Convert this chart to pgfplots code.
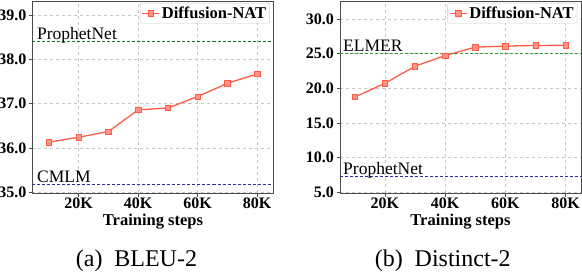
\documentclass[border=0pt]{standalone}
\usepackage{pgfplots}
\pgfplotsset{compat=1.18}
\usepackage{fontspec}
\setmainfont{Liberation Serif}
\definecolor{lineR}{HTML}{FF5B47}
\definecolor{fillR}{HTML}{FF9585}
\definecolor{refgreenA}{RGB}{20,120,20}
\definecolor{refgreenB}{RGB}{50,160,50}
\definecolor{refblue}{RGB}{45,45,175}
\pgfplotsset{
  common/.style={
    scale only axis, width=241pt, height=192pt,
    anchor=north west,
    axis line style={black!70, line width=0.8pt},
    grid=major,
    major grid style={dashed, black!22, line width=0.5pt},
    tick align=outside,
    major tick length=3.5pt,
    tick style={black!70, line width=0.7pt},
    xtick pos=bottom, ytick pos=left,
    xtick={20,40,60,80},
    xticklabels={20K,40K,60K,80K},
    /pgf/number format/assume math mode=true,
    tick label style={font=\bfseries\fontsize{16}{16}\selectfont},
    yticklabel style={/pgf/number format/fixed, /pgf/number format/fixed zerofill, /pgf/number format/precision=1, xshift=1pt},
    xticklabel style={yshift=2pt},
    xlabel={Training steps},
    xlabel style={font=\bfseries\fontsize{16.5}{16.5}\selectfont, yshift=2pt},
    legend style={at={(0.985,0.99)}, anchor=north east, draw=black!20, rounded corners=2pt,
      font=\bfseries\fontsize{16.5}{16.5}\selectfont, inner sep=1.5pt, row sep=0pt},
    legend cell align=left,
  },
  nat/.style={color=lineR, line width=1.3pt, mark=square*, mark size=2.7pt,
    mark options={fill=fillR, draw=lineR, line width=0.6pt, solid}},
}
\begin{document}
\begin{tikzpicture}
\path[use as bounding box] (0pt,0pt) rectangle (582pt,-276pt);
\begin{axis}[common, at={(32.5pt,-1pt)},
  xmin=4.5, xmax=85.5, ymin=34.98, ymax=39.32,
  ytick={35,36,37,38,39}]
\addplot[nat] coordinates {(10,36.13) (20,36.24) (30,36.37) (40,36.86) (50,36.90) (60,37.16) (70,37.46) (80,37.67)};
\addlegendentry{Diffusion-NAT}
\addplot[draw=refgreenA, line width=1.1pt, dash pattern=on 3pt off 2pt, forget plot] coordinates {(4.5,38.40) (85.5,38.40)};
\addplot[draw=refblue, line width=1.1pt, dash pattern=on 3pt off 2pt, forget plot] coordinates {(4.5,35.18) (85.5,35.18)};
\node[anchor=base west, inner sep=0pt, font=\fontsize{17.5}{17.5}\selectfont] at (axis cs:6.0,38.40) [yshift=1.8pt] {ProphetNet};
\node[anchor=base west, inner sep=0pt, font=\fontsize{17.5}{17.5}\selectfont] at (axis cs:6.0,35.18) [yshift=1.8pt] {CMLM};
\end{axis}
\begin{axis}[common, at={(340pt,-1pt)},
  xmin=5.1, xmax=85.1, ymin=4.9, ymax=32.6,
  ytick={5,10,15,20,25,30}]
\addplot[nat] coordinates {(10,18.74) (20,20.72) (30,23.19) (40,24.73) (50,25.94) (60,26.09) (70,26.19) (80,26.20)};
\addlegendentry{Diffusion-NAT}
\addplot[draw=refgreenB, line width=1.6pt, dash pattern=on 3pt off 2pt, forget plot] coordinates {(5.1,25.0) (85.1,25.0)};
\addplot[draw=refblue, line width=1.1pt, dash pattern=on 3pt off 2pt, forget plot] coordinates {(5.1,7.29) (85.1,7.29)};
\node[anchor=base west, inner sep=0pt, font=\fontsize{17.5}{17.5}\selectfont] at (axis cs:6.1,25.0) [yshift=1.8pt] {ELMER};
\node[anchor=base west, inner sep=0pt, font=\fontsize{17.5}{17.5}\selectfont] at (axis cs:6.1,7.29) [yshift=1.8pt] {ProphetNet};
\end{axis}
\node[anchor=base, inner sep=0pt, font=\fontsize{24}{24}\selectfont] at (136.5pt,-266.5pt) {(a)\hspace{0.49em}BLEU-2};
\node[anchor=base, inner sep=0pt, font=\fontsize{24}{24}\selectfont] at (442.8pt,-266.5pt) {(b)\hspace{0.49em}Distinct-2};
\end{tikzpicture}
\end{document}
